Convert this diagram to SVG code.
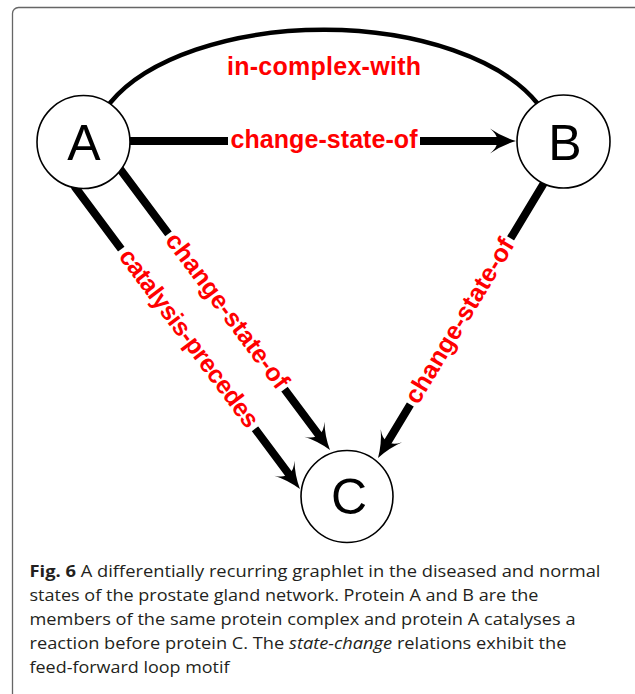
<svg xmlns="http://www.w3.org/2000/svg" width="635" height="694" viewBox="0 0 635 694">
<style>
.frame{fill:#fff;stroke:#666;stroke-width:1.3}
.node{fill:#fff;stroke:#000;stroke-width:1.6}
.nlabel{font-family:"Liberation Sans",Arial,sans-serif;font-size:50px;fill:#000;text-anchor:middle}
.edge{fill:none;stroke:#000;stroke-width:8;stroke-linecap:round}
.arc{fill:none;stroke:#000;stroke-width:4.5;stroke-linecap:round}
.elabel{font-family:"Liberation Sans",Arial,sans-serif;font-weight:bold;font-size:25px;fill:#ff0000;text-anchor:middle}
.lbg{fill:#fff}
.cap{font-family:"Open Sans","Noto Sans",sans-serif;font-size:16.8px;fill:#231f20}
</style>
<defs>
<marker id="arrow" viewBox="-10 -14 30 28" refX="0" refY="0" markerWidth="30" markerHeight="28" markerUnits="userSpaceOnUse" orient="auto">
<path d="M18,0 Q4,-4 -8,-12.5 Q0,-6 -1,0 Q0,6 -8,12.5 Q4,4 18,0 Z" fill="#000"/>
</marker>
</defs>
<rect class="frame" x="12.5" y="7.5" width="640" height="720" rx="6"/>
<g id="connectors">
<path id="e-complex" class="arc" d="M110,103 A232,120 0 0 1 538,104"/>
<text class="elabel" x="324" y="75" textLength="194">in-complex-with</text>
<g id="e-AB">
<line class="edge" x1="128" y1="141" x2="498" y2="141" marker-end="url(#arrow)"/>
<g transform="translate(324,141)"><rect class="lbg" x="-96" y="-7" width="192" height="14"/><text class="elabel" x="0" y="7" textLength="187">change-state-of</text></g>
</g>
<g id="e-AC-cat">
<line class="edge" x1="75" y1="187" x2="289.2" y2="474.6" marker-end="url(#arrow)"/>
<g transform="translate(188.2,338.9) rotate(53.3)"><rect class="lbg" x="-112" y="-7" width="224" height="14"/><text class="elabel" x="0" y="7" textLength="216">catalysis-precedes</text></g>
</g>
<g id="e-AC-csf">
<line class="edge" x1="120" y1="169" x2="319.2" y2="435.6" marker-end="url(#arrow)"/>
<g transform="translate(226.5,311.5) rotate(53.2)"><rect class="lbg" x="-97" y="-7" width="194" height="14"/><text class="elabel" x="0" y="7" textLength="188">change-state-of</text></g>
</g>
<g id="e-BC">
<line class="edge" x1="544" y1="183" x2="387.3" y2="442.6" marker-end="url(#arrow)"/>
<g transform="translate(460.6,321.5) rotate(-58.9)"><rect class="lbg" x="-97" y="-7" width="194" height="14"/><text class="elabel" x="0" y="7" textLength="188">change-state-of</text></g>
</g>
</g>
<g id="node-A"><circle class="node" cx="83.5" cy="142" r="46.5"/><text class="nlabel" x="84" y="160">A</text></g>
<g id="node-B"><circle class="node" cx="563.5" cy="141.5" r="46.5"/><text class="nlabel" x="565" y="160">B</text></g>
<g id="node-C"><circle class="node" cx="347" cy="496.5" r="46"/><text class="nlabel" x="349" y="514">C</text></g>
<g id="caption">
<text class="cap" x="29.5" y="577" textLength="571" lengthAdjust="spacingAndGlyphs"><tspan font-weight="bold">Fig. 6</tspan> A differentially recurring graphlet in the diseased and normal</text>
<text class="cap" x="29.5" y="601" textLength="509" lengthAdjust="spacingAndGlyphs">states of the prostate gland network. Protein A and B are the</text>
<text class="cap" x="29.5" y="625" textLength="546" lengthAdjust="spacingAndGlyphs">members of the same protein complex and protein A catalyses a</text>
<text class="cap" x="29.5" y="649" textLength="537" lengthAdjust="spacingAndGlyphs">reaction before protein C. The <tspan font-style="italic">state-change</tspan> relations exhibit the</text>
<text class="cap" x="29.5" y="673" textLength="200" lengthAdjust="spacingAndGlyphs">feed-forward loop motif</text>
</g>
</svg>
